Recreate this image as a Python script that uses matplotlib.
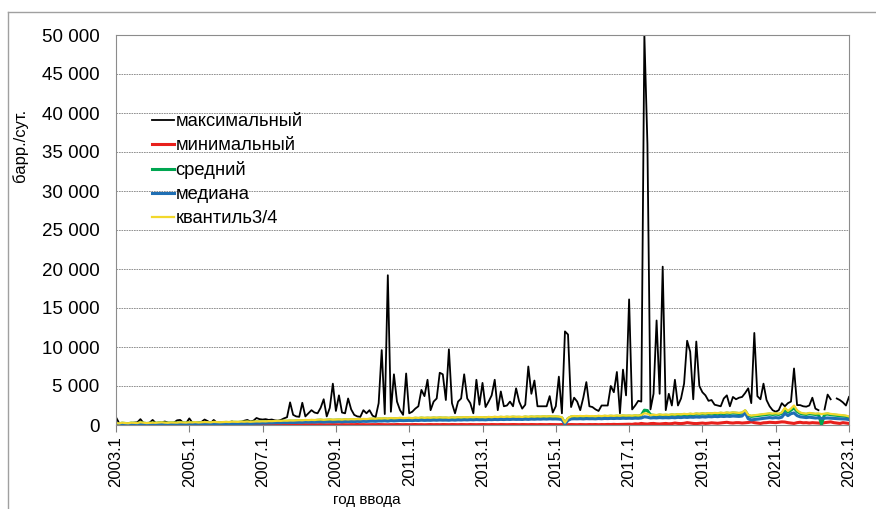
import numpy as np
import matplotlib
matplotlib.use('Agg')
import matplotlib.pyplot as plt
from matplotlib.ticker import FuncFormatter

nan = np.nan

# месячные значения, 2003.1 ... 2023.1
max_vals = [
    1000, 250, 150, 200, 180, 250, 300, 350, 750, 250, 200, 300,        # 2003
    650, 250, 300, 350, 450, 300, 250, 300, 600, 650, 300, 250,         # 2004
    850, 300, 250, 300, 400, 700, 500, 250, 650, 300, 200, 250,         # 2005
    300, 350, 450, 250, 300, 400, 550, 650, 450, 550, 900, 750,         # 2006
    700, 750, 650, 700, 600, 550, 650, 850, 1000, 2900, 1300, 1100,     # 2007
    1050, 2850, 1100, 1500, 1900, 1600, 1500, 2200, 3300, 1100, 2200, 5300,  # 2008
    1800, 3800, 1600, 1500, 3400, 2000, 1300, 1100, 1050, 1900, 1500, 1900,  # 2009
    1200, 1000, 2800, 9600, 1400, 19200, 1700, 6500, 3000, 1900, 1300, 6600,  # 2010
    1500, 1700, 2100, 2400, 4500, 3700, 5800, 1900, 3000, 3400, 6700, 6500,  # 2011
    3200, 9700, 2800, 1500, 3000, 3400, 6500, 3400, 2800, 1500, 5800, 2600,  # 2012
    5400, 2300, 3000, 3800, 5800, 1900, 4300, 2400, 2500, 3000, 2400, 4700,  # 2013
    3000, 2100, 2600, 7500, 4000, 5700, 2400, 2400, 2400, 2400, 3700, 1600,  # 2014
    2400, 6200, 1500, 12000, 11600, 2300, 3500, 3000, 1900, 3500, 5500, 2400,  # 2015
    2300, 2000, 1800, 2500, 2500, 2500, 5000, 4200, 6800, 1500, 7100, 3800,  # 2016
    16100, 2000, 2500, 3100, 3000, 50000, 36000, 2000, 4000, 13400, 4000, 20300,  # 2017
    1900, 4000, 2500, 5800, 2500, 3400, 5300, 10800, 9400, 3300, 10700, 5000,  # 2018
    4200, 3800, 3100, 3200, 2600, 2500, 2400, 3400, 3800, 2400, 3600, 3300,  # 2019
    3500, 3600, 4100, 4700, 2800, 11800, 3700, 3300, 5300, 3200, 2400, 1900,  # 2020
    1700, 1900, 2800, 2400, 2800, 3000, 7250, 2550, 2550, 2400, 2350, 2500,  # 2021
    3500, 2100, 1900, nan, 2000, 3900, 3300, nan, 3400, 3200, 2900, 2500,  # 2022
    3600,                                                                  # 2023
]

min_vals = [
    20, 10, 30, 20, 10, 30, 20, 10, 40, 20, 10, 20,
    30, 20, 10, 30, 20, 10, 30, 20, 40, 20, 10, 30,
    20, 30, 10, 20, 30, 20, 10, 30, 20, 40, 20, 10,
    30, 20, 40, 30, 20, 30, 40, 20, 30, 40, 30, 20,
    30, 40, 20, 30, 40, 30, 20, 40, 30, 50, 30, 40,
    30, 50, 40, 30, 50, 40, 30, 50, 40, 30, 40, 50,
    40, 30, 50, 40, 30, 50, 40, 60, 40, 50, 30, 40,
    50, 40, 60, 50, 40, 30, 50, 40, 60, 50, 40, 50,
    40, 50, 60, 40, 50, 30, 50, 60, 40, 50, 40, 60,
    50, 40, 60, 50, 40, 60, 50, 40, 60, 50, 40, 50,
    60, 50, 40, 60, 50, 40, 60, 50, 40, 50, 60, 50,
    40, 60, 50, 40, 60, 50, 40, 60, 50, 40, 60, 50,
    50, 40, 60, 20, 40, 60, 50, 40, 60, 50, 40, 60,
    50, 60, 40, 60, 50, 70, 60, 80, 60, 70, 90, 80,
    100, 80, 150, 120, 200, 150, 120, 180, 200, 150, 130, 160,
    200, 150, 180, 250, 200, 180, 220, 300, 250, 200, 180, 220,
    250, 200, 230, 280, 250, 220, 260, 300, 350, 280, 250, 300,
    300, 250, 280, 320, 400, 300, 250, 200, 280, 300, 350, 320,
    300, 350, 400, 380, 300, 250, 200, 300, 350, 280, 300, 250,
    300, 280, 250, 200, 300, 350, 400, 300, 250, 200, 300, 250,
    200,
]

mean_vals = [
    200, 150, 230, 200, 170, 240, 220, 190, 280, 230, 190, 220,
    240, 220, 260, 280, 240, 220, 270, 250, 240, 280, 260, 250,
    280, 260, 300, 260, 280, 310, 290, 270, 330, 300, 280, 310,
    330, 310, 350, 340, 330, 370, 350, 380, 340, 370, 390, 380,
    400, 380, 420, 410, 440, 460, 450, 480, 470, 500, 490, 520,
    540, 520, 570, 550, 580, 560, 600, 620, 580, 610, 640, 600,
    620, 640, 610, 660, 630, 670, 650, 680, 660, 700, 680, 720,
    740, 720, 770, 750, 790, 740, 820, 780, 800, 840, 810, 820,
    840, 800, 860, 830, 880, 840, 870, 850, 890, 860, 900, 870,
    880, 850, 900, 870, 920, 890, 930, 900, 940, 910, 950, 920,
    930, 900, 960, 920, 970, 940, 980, 950, 990, 960, 1000, 970,
    980, 950, 1010, 970, 1020, 990, 1030, 1000, 1040, 1010, 1050, 1020,
    1030, 1000, 900, 200, 820, 1020, 1070, 1040, 1080, 1050, 1090, 1060,
    1070, 1040, 1100, 1060, 1110, 1080, 1120, 1090, 1130, 1100, 1150, 1120,
    1140, 1110, 1170, 1130, 1250, 1900, 1850, 1300, 1240, 1200, 1270, 1220,
    1250, 1220, 1290, 1250, 1320, 1280, 1350, 1310, 1370, 1330, 1400, 1360,
    1420, 1380, 1450, 1410, 1470, 1440, 1500, 1460, 1520, 1480, 1540, 1500,
    1470, 1520, 1800, 1200, 1100, 1150, 1200, 1250, 1300, 1350, 1400, 1350,
    1400, 1350, 1500, 2000, 1650, 1900, 2200, 1750, 1500, 1400, 1350, 1450,
    1400, 1350, 1380, 100, 1350, 1400, 1320, 1280, 1250, 1200, 1150, 1100,
    1000,
]

median_vals = [
    100, 80, 120, 100, 90, 130, 110, 100, 150, 120, 100, 110,
    130, 110, 120, 150, 120, 100, 140, 130, 120, 150, 140, 130,
    150, 140, 160, 130, 150, 170, 160, 140, 180, 160, 150, 170,
    180, 170, 200, 190, 180, 210, 200, 220, 190, 210, 230, 220,
    250, 240, 270, 260, 280, 300, 290, 310, 300, 330, 320, 340,
    350, 340, 380, 360, 390, 370, 400, 420, 380, 410, 430, 400,
    420, 440, 410, 450, 430, 460, 440, 470, 450, 480, 460, 490,
    500, 480, 520, 510, 540, 500, 560, 530, 550, 580, 560, 570,
    590, 560, 600, 580, 620, 590, 610, 600, 630, 610, 640, 620,
    630, 610, 650, 620, 660, 640, 670, 650, 680, 660, 690, 670,
    680, 660, 700, 680, 710, 690, 720, 700, 730, 710, 740, 720,
    730, 710, 750, 720, 760, 740, 770, 750, 780, 760, 790, 770,
    780, 760, 700, 120, 600, 780, 800, 790, 810, 780, 820, 800,
    810, 790, 830, 800, 840, 820, 850, 830, 860, 840, 870, 850,
    870, 850, 880, 860, 900, 1050, 1000, 900, 930, 910, 950, 920,
    940, 920, 960, 930, 980, 950, 1000, 970, 1010, 990, 1030, 1000,
    1050, 1020, 1080, 1050, 1100, 1070, 1120, 1090, 1130, 1100, 1150, 1120,
    1100, 1150, 1600, 800, 650, 700, 750, 800, 850, 900, 950, 900,
    950, 900, 1000, 1500, 1200, 1450, 1550, 1200, 1050, 1000, 950, 1000,
    950, 900, 920, 850, 880, 900, 870, 850, 820, 800, 780, 760,
    700,
]

q3_vals = [
    250, 200, 300, 250, 220, 300, 280, 250, 350, 300, 250, 280,
    300, 280, 320, 350, 300, 280, 330, 310, 300, 350, 330, 310,
    350, 330, 370, 320, 350, 380, 360, 340, 400, 370, 350, 380,
    400, 380, 420, 410, 400, 440, 420, 450, 410, 440, 460, 450,
    480, 460, 500, 490, 520, 540, 530, 560, 550, 580, 570, 600,
    620, 600, 650, 630, 660, 640, 680, 700, 660, 690, 720, 680,
    700, 720, 690, 740, 710, 750, 730, 760, 740, 780, 760, 800,
    820, 800, 850, 830, 870, 820, 900, 860, 880, 920, 890, 900,
    920, 880, 940, 910, 960, 920, 950, 930, 970, 940, 980, 950,
    960, 930, 980, 950, 1000, 970, 1010, 980, 1020, 990, 1030, 1000,
    1010, 980, 1040, 1000, 1050, 1020, 1060, 1030, 1070, 1040, 1080, 1050,
    1060, 1030, 1090, 1050, 1100, 1070, 1110, 1080, 1120, 1090, 1130, 1100,
    1110, 1080, 1000, 300, 900, 1100, 1150, 1120, 1160, 1130, 1170, 1140,
    1150, 1120, 1180, 1140, 1190, 1160, 1200, 1170, 1210, 1180, 1230, 1200,
    1220, 1190, 1250, 1210, 1280, 1500, 1450, 1260, 1320, 1280, 1350, 1300,
    1330, 1300, 1370, 1330, 1400, 1360, 1430, 1390, 1450, 1410, 1480, 1440,
    1500, 1460, 1530, 1490, 1550, 1520, 1580, 1540, 1600, 1560, 1620, 1580,
    1550, 1600, 1900, 1300, 1200, 1250, 1300, 1350, 1400, 1450, 1500, 1450,
    1500, 1450, 1600, 2200, 1800, 2100, 2500, 1900, 1600, 1500, 1450, 1550,
    1500, 1450, 1480, 1400, 1450, 1500, 1420, 1380, 1350, 1300, 1250, 1200,
    1100,
]

tick_labels = ['2003.1', '2005.1', '2007.1', '2009.1', '2011.1', '2013.1',
               '2015.1', '2017.1', '2019.1', '2021.1', '2023.1']

plt.rcParams['font.family'] = ['Liberation Sans', 'DejaVu Sans']

fig = plt.figure(figsize=(8.76, 5.09), dpi=100)
ax = fig.add_axes([116 / 876, 1 - 425 / 509, 733 / 876, 390 / 509])

x = np.arange(len(max_vals))
ax.plot(x, max_vals, color='black', lw=1.3, label='максимальный')
ax.plot(x, min_vals, color='#e8201c', lw=2.2, label='минимальный')
ax.plot(x, mean_vals, color='#00a651', lw=2.2, label='средний')
ax.plot(x, median_vals, color='#1f6fb4', lw=2.2, label='медиана')
ax.plot(x, q3_vals, color='#f2d82c', lw=1.6, label='квантиль3/4')

ax.set_xlim(0, len(max_vals) - 1)
ax.set_ylim(0, 50000)
ax.set_yticks(np.arange(0, 50001, 5000))
ax.yaxis.set_major_formatter(FuncFormatter(lambda v, p: f'{int(v):,}'.replace(',', ' ')))
ax.set_xticks(np.arange(0, len(max_vals), 24))
ax.set_xticklabels(tick_labels, rotation=90)
ax.tick_params(axis='x', length=5, color='#808080', labelsize=12, pad=3)
ax.tick_params(axis='y', length=0, labelsize=13.5, pad=12)
ax.grid(axis='y', color='#808080', ls=(0, (2, 1)), lw=0.6)
for s in ax.spines.values():
    s.set_color('#8c8c8c')

leg = ax.legend(loc='upper left', bbox_to_anchor=(0.026, 0.842), frameon=False,
                fontsize=13.2, handlelength=1.2, handletextpad=0.1, labelspacing=0.38)

fig.text(20 / 876, 1 - 145 / 509, 'барр./сут.', rotation=90, fontsize=12,
         ha='center', va='center')
fig.text(367 / 876, 1 - 500 / 509, 'год ввода', fontsize=11, ha='center', va='center')

# рамка области диаграммы
fig.add_artist(plt.Line2D([8 / 876, 1], [1 - 12 / 509, 1 - 12 / 509], color='#a0a0a0', lw=1))
fig.add_artist(plt.Line2D([8 / 876, 8 / 876], [0, 1 - 12 / 509], color='#a0a0a0', lw=1))

fig.savefig('out.png', dpi=100)
